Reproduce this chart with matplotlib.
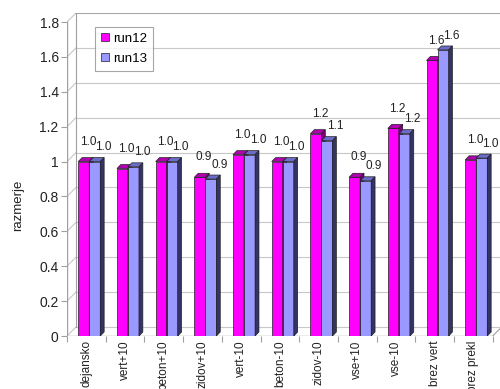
import matplotlib.pyplot as plt
from matplotlib.patches import Polygon
import numpy as np

plt.rcParams['font.family'] = ['Liberation Sans', 'DejaVu Sans']

# podatki
categories = ["dejansko", "vert+10", "beton+10", "zidov+10", "vert-10", "beton-10",
              "zidov-10", "vse+10", "vse-10", "brez vert", "brez prekl"]
run12 = [1.00, 0.96, 1.00, 0.91, 1.04, 1.00, 1.16, 0.91, 1.19, 1.58, 1.01]
run13 = [1.00, 0.97, 1.00, 0.90, 1.04, 1.00, 1.12, 0.89, 1.16, 1.64, 1.02]
yticks = [0, 0.2, 0.4, 0.6, 0.8, 1, 1.2, 1.4, 1.6, 1.8]
ytick_labels = ["0", "0.2", "0.4", "0.6", "0.8", "1", "1.2", "1.4", "1.6", "1.8"]

# 3D videz (globina stene in stolpcev)
n = len(categories)
ymax = 1.8
wdx, wdy = 0.233, 0.052   # globina stene
bdx, bdy = 0.10, 0.023    # globina stolpca
bw = 0.285
grid_c = "#c8c8c8"
wall_c = "#a0a0a0"

fig = plt.figure(figsize=(5, 3.89), dpi=100)
px_x, px_y = 38.7, 174.4
left, bottom = 67, 336
ax_w = (n + wdx) * px_x
ax_h = (ymax + wdy) * px_y
ax = fig.add_axes([left / 500, (389 - bottom) / 389, ax_w / 500, ax_h / 389])
ax.set_xlim(0, n + wdx)
ax.set_ylim(0, ymax + wdy)

# stene in mreza
for v in yticks:
    ax.plot([0, wdx], [v, v + wdy], color=grid_c, lw=0.8, zorder=1)
    ax.plot([wdx, n + wdx], [v + wdy, v + wdy], color=grid_c, lw=0.8, zorder=1)
ax.plot([wdx, n + wdx], [ymax + wdy, ymax + wdy], color=wall_c, lw=1.2, zorder=1)
ax.plot([wdx, wdx], [wdy, ymax + wdy], color=wall_c, lw=0.8, zorder=1)
ax.plot([n, n + wdx], [0, wdy], color=wall_c, lw=0.8, zorder=1)
ax.plot([0, n], [0, 0], color=wall_c, lw=1.0, zorder=1)
ax.plot([0, 0], [0, ymax], color=wall_c, lw=1.0, zorder=1)


def bar3d(x, h, front, top, side):
    ax.add_patch(Polygon([(x, 0), (x + bw, 0), (x + bw, h), (x, h)],
                         facecolor=front, edgecolor="#202020", lw=0.5, zorder=3))
    ax.add_patch(Polygon([(x, h), (x + bw, h), (x + bw + bdx, h + bdy), (x + bdx, h + bdy)],
                         facecolor=top, edgecolor="#202020", lw=0.5, zorder=3))
    ax.add_patch(Polygon([(x + bw, 0), (x + bw + bdx, bdy), (x + bw + bdx, h + bdy), (x + bw, h)],
                         facecolor=side, edgecolor="#202020", lw=0.5, zorder=3))


for i in range(n):
    x1 = i + 0.29
    x2 = x1 + bw
    bar3d(x1, run12[i], "#ff00ff", "#b000b0", "#800080")
    bar3d(x2, run13[i], "#9999ff", "#6b6bc8", "#333366")
    ax.annotate("%.1f" % run12[i], (x1 + bw / 2, run12[i]), xytext=(3, 10),
                textcoords="offset points", ha="center", va="bottom", fontsize=8.5,
                color="#222222", zorder=4)
    ax.annotate("%.1f" % run13[i], (x2 + bw / 2, run13[i]), xytext=(6, 6),
                textcoords="offset points", ha="center", va="bottom", fontsize=8.5,
                color="#222222", zorder=4)

# osi
for s in ax.spines.values():
    s.set_visible(False)
ax.set_yticks(yticks)
ax.set_yticklabels(ytick_labels, fontsize=10, color="#222222")
ax.tick_params(axis="y", length=4, color=wall_c, pad=2)
ax.set_xticks(np.arange(n + 1))
ax.set_xticklabels([])
ax.tick_params(axis="x", which="major", length=4, color=wall_c)
ax.set_xticks(np.arange(n) + 0.5, minor=True)
ax.set_xticklabels(categories, minor=True, rotation=90, fontsize=8.5, color="#222222")
ax.tick_params(axis="x", which="minor", length=0, pad=3)

fig.text(18 / 500, 1 - 205 / 389, "razmerje", rotation=90, fontsize=9.5,
         color="#222222", ha="center", va="center")

h1 = Polygon([(0, 0)], facecolor="#ff00ff", edgecolor="#202020", lw=0.5)
h2 = Polygon([(0, 0)], facecolor="#9999ff", edgecolor="#202020", lw=0.5)
leg = fig.legend([h1, h2], ["run12", "run13"], loc="upper left",
                 bbox_to_anchor=(95 / 500, 1 - 27 / 389), borderaxespad=0,
                 fontsize=9.5, frameon=True, fancybox=False, handlelength=0.6,
                 handleheight=0.6, handletextpad=0.3, borderpad=0.45,
                 labelspacing=0.6)
leg.get_frame().set_edgecolor("#909090")
leg.get_frame().set_linewidth(0.8)

fig.savefig("out.png", dpi=100)
